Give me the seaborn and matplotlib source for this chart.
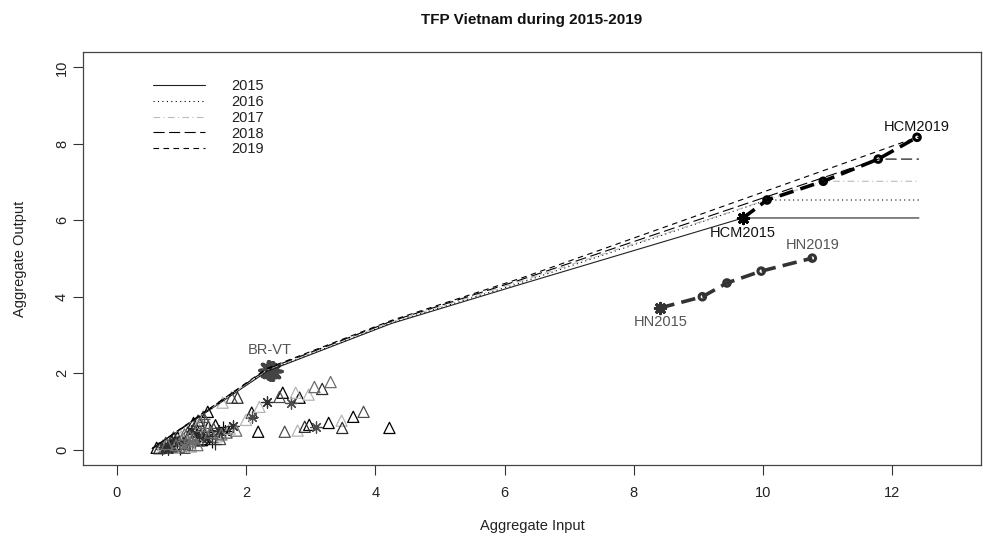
import numpy as np
import pandas as pd
import seaborn as sns
import matplotlib.pyplot as plt
from matplotlib.markers import MarkerStyle

years = [2015, 2016, 2017, 2018, 2019]

# frontier vertices per year (last point = horizontal extension)
frontier_x = {
    2015: [0.55, 2.33, 4.25, 6.20, 9.69, 12.41],
    2016: [0.55, 2.33, 4.25, 6.22, 10.06, 12.41],
    2017: [0.55, 2.33, 4.25, 6.24, 10.93, 12.41],
    2018: [0.55, 2.33, 4.25, 6.26, 11.78, 12.41],
    2019: [0.55, 2.33, 4.25, 6.28, 12.38, 12.41],
}
frontier_y = {
    2015: [0.03, 2.05, 3.30, 4.30, 6.06, 6.06],
    2016: [0.03, 2.07, 3.32, 4.35, 6.53, 6.53],
    2017: [0.03, 2.09, 3.34, 4.40, 7.02, 7.02],
    2018: [0.03, 2.11, 3.36, 4.45, 7.60, 7.60],
    2019: [0.03, 2.13, 3.38, 4.50, 8.17, 8.17],
}

hcm_x = [9.69, 10.06, 10.93, 11.78, 12.38]
hcm_y = [6.06, 6.53, 7.02, 7.60, 8.17]
hn_x = [8.41, 9.06, 9.44, 9.97, 10.76]
hn_y = [3.71, 4.00, 4.36, 4.67, 5.01]
brvt_x, brvt_y = 2.34, 2.09

# other provinces (input, output, year, symbol)
prov_x = [3.06, 3.18, 3.31, 2.57, 2.77, 2.52, 2.83, 2.97, 2.33, 2.69, 2.21, 2.09, 2.09, 2.00,
          1.87, 1.78, 1.64, 1.41, 2.19, 2.60, 2.80, 2.91, 2.98, 3.09, 3.28, 3.48, 3.49, 3.66,
          3.82, 4.22,
          0.62, 0.68, 0.72, 0.75, 0.78, 0.82, 0.85, 0.88, 0.90, 0.92, 0.95, 0.97, 1.00, 1.02,
          1.05, 1.08, 1.10, 1.12, 1.15, 1.18, 1.20, 1.22, 1.25, 1.28, 1.30, 1.32, 1.35, 1.38,
          1.40, 1.45, 1.48, 1.50, 1.55, 1.58, 1.62, 1.65, 1.70, 1.75, 1.80, 1.85, 0.98, 1.05,
          1.15, 0.80, 1.25, 0.70, 0.88, 1.00, 1.12, 1.30, 1.42, 1.60,
          0.66, 0.74, 0.83, 0.93, 1.03, 1.13, 1.23, 1.33, 1.43, 1.53, 0.70, 0.79, 0.87, 0.96,
          1.06, 1.17, 1.27, 1.36, 1.47, 1.57, 1.68, 0.76, 0.86, 0.94, 1.04, 1.14, 1.19, 1.26,
          1.34, 1.52]
prov_y = [1.64, 1.59, 1.77, 1.49, 1.49, 1.38, 1.36, 1.44, 1.25, 1.23, 1.12, 0.97, 0.86, 0.78,
          1.36, 1.36, 1.23, 0.99, 0.47, 0.47, 0.50, 0.60, 0.65, 0.60, 0.70, 0.76, 0.57, 0.86,
          0.99, 0.57,
          0.05, 0.08, 0.12, 0.06, 0.15, 0.10, 0.20, 0.05, 0.25, 0.12, 0.30, 0.08, 0.35, 0.18,
          0.40, 0.10, 0.45, 0.22, 0.50, 0.30, 0.55, 0.15, 0.62, 0.35, 0.70, 0.25, 0.80, 0.40,
          0.30, 0.45, 0.20, 0.55, 0.35, 0.50, 0.40, 0.60, 0.45, 0.55, 0.62, 0.50, 0.02, 0.05,
          0.08, 0.02, 0.12, 0.10, 0.32, 0.22, 0.38, 0.48, 0.60, 0.28,
          0.04, 0.10, 0.16, 0.20, 0.28, 0.34, 0.42, 0.50, 0.58, 0.64, 0.02, 0.06, 0.09, 0.14,
          0.16, 0.20, 0.24, 0.28, 0.36, 0.42, 0.50, 0.18, 0.26, 0.32, 0.10, 0.12, 0.70, 0.76,
          0.86, 0.14]
prov_year = [2019, 2018, 2019, 2015, 2017, 2016, 2015, 2017, 2018, 2016, 2017, 2015, 2016, 2017,
             2018, 2016, 2017, 2015, 2015, 2016, 2017, 2018, 2015, 2016, 2015, 2017, 2018, 2015,
             2016, 2015,
             2015, 2016, 2017, 2018, 2019, 2015, 2016, 2017, 2018, 2019, 2015, 2016, 2017, 2018,
             2019, 2015, 2016, 2017, 2018, 2019, 2015, 2016, 2017, 2018, 2019, 2015, 2016, 2017,
             2018, 2019, 2015, 2016, 2017, 2018, 2019, 2015, 2016, 2017, 2018, 2019, 2015, 2016,
             2017, 2018, 2019, 2015, 2016, 2017, 2018, 2019, 2015, 2016,
             2018, 2016, 2015, 2018, 2016, 2019, 2015, 2018, 2016, 2015, 2016, 2018, 2015, 2016,
             2018, 2019, 2016, 2015, 2018, 2016, 2015, 2016, 2018, 2015, 2019, 2016, 2015, 2018,
             2016, 2018]
prov_sym = (['tri'] * 8 + ['star', 'star'] + ['tri', 'tri', 'star'] + ['tri'] * 10 + ['star'] + ['tri'] * 6 +
            ['tri', 'plus', 'tri', 'star', 'tri', 'plus', 'tri', 'tri', 'star', 'tri', 'plus', 'tri', 'tri', 'star',
             'tri', 'plus', 'tri', 'tri', 'star', 'tri', 'tri', 'plus', 'tri', 'star', 'tri', 'tri', 'plus', 'tri',
             'star', 'tri', 'plus', 'tri', 'tri', 'star', 'tri', 'plus', 'tri', 'tri', 'star', 'tri', 'plus', 'tri',
             'tri', 'star', 'tri', 'plus', 'tri', 'star', 'tri', 'plus', 'tri', 'tri'] +
            ['tri', 'star', 'tri', 'plus', 'tri', 'tri', 'star', 'tri', 'plus', 'tri', 'star', 'tri', 'tri', 'plus',
             'tri', 'star', 'tri', 'tri', 'plus', 'tri', 'star', 'tri', 'plus', 'tri', 'star', 'tri', 'tri', 'tri',
             'tri', 'plus'])

year_color = {2015: '#000000', 2016: '#4d4d4d', 2017: '#b5b5b5', 2018: '#2e2e2e', 2019: '#6e6e6e'}
year_lines = {2015: dict(color='#222222', ls='-'),
              2016: dict(color='#000000', ls=(0, (1, 3))),
              2017: dict(color='#bbbbbb', ls=(0, (6, 3, 1, 3))),
              2018: dict(color='#000000', ls=(0, (10, 4))),
              2019: dict(color='#000000', ls=(0, (5, 4)))}

sns.set_theme(style='white')
plt.rcParams['font.family'] = ['Liberation Sans', 'DejaVu Sans']

fig = plt.figure(figsize=(9.83, 5.38), dpi=100)
ax = fig.add_axes([0.0844, 0.1357, 0.9136, 0.7676])

# frontiers
for yr in years:
    st = year_lines[yr]
    sns.lineplot(x=frontier_x[yr], y=frontier_y[yr], ax=ax, color=st['color'], linestyle=st['ls'],
                 linewidth=0.8, sort=False, estimator=None, label=str(yr))

# provinces
prov = pd.DataFrame({'x': prov_x, 'y': prov_y, 'year': prov_year, 'sym': prov_sym[:len(prov_x)]})
sym_marker = {'tri': MarkerStyle('^', fillstyle='none'), 'star': MarkerStyle((8, 2, 0)), 'plus': MarkerStyle('+')}
for (yr, sym), grp in prov.groupby(['year', 'sym']):
    sns.scatterplot(data=grp, x='x', y='y', ax=ax, marker=sym_marker[sym], color=year_color[yr],
                    s=65, linewidth=0.9, legend=False)

# BR-VT blob
for k in range(5):
    sns.scatterplot(x=[brvt_x + 0.02 * k], y=[brvt_y - 0.01 * k], ax=ax, marker=MarkerStyle((8, 2, 0)),
                    color='#444444', s=150, linewidth=2.5, legend=False)
sns.scatterplot(x=[brvt_x + 0.04], y=[brvt_y - 0.02], ax=ax, marker='o', color='#444444', s=90,
                linewidth=0, legend=False)

# HCM and HN paths
ax.plot(hcm_x, hcm_y, color='black', linewidth=2.6, linestyle=(0, (4, 2)), zorder=4)
ax.plot(hn_x, hn_y, color='#333333', linewidth=2.6, linestyle=(0, (4, 2)), zorder=4)
for px, py, c in [(hcm_x, hcm_y, 'black'), (hn_x, hn_y, '#333333')]:
    sns.scatterplot(x=px[:1], y=py[:1], ax=ax, marker=MarkerStyle((8, 2, 0)), color=c, s=55,
                    linewidth=2.2, legend=False, zorder=5)
    sns.scatterplot(x=px[1:], y=py[1:], ax=ax, marker=MarkerStyle('o', fillstyle='none'), color=c,
                    s=22, linewidth=2.2, legend=False, zorder=5)

ax.text(hcm_x[-1], hcm_y[-1] + 0.28, 'HCM2019', ha='center', va='center', fontsize=10.5, color='#111111')
ax.text(hcm_x[0], hcm_y[0] - 0.40, 'HCM2015', ha='center', va='center', fontsize=10.5, color='#111111')
ax.text(hn_x[-1], hn_y[-1] + 0.34, 'HN2019', ha='center', va='center', fontsize=10.5, color='#555555')
ax.text(hn_x[0], hn_y[0] - 0.38, 'HN2015', ha='center', va='center', fontsize=10.5, color='#555555')
ax.text(brvt_x + 0.03, brvt_y + 0.52, 'BR-VT', ha='center', va='center', fontsize=10.5, color='#555555')

ax.set_xlim(-0.52, 13.37)
ax.set_ylim(-0.4, 10.4)
ax.set_xticks([0, 2, 4, 6, 8, 10, 12])
ax.set_yticks([0, 2, 4, 6, 8, 10])
ax.tick_params(direction='out', length=7, width=0.8, colors='#333333', labelcolor='#222222',
               labelsize=10.5, bottom=True, left=True)
ax.tick_params(axis='x', pad=8)
ax.tick_params(axis='y', pad=3)
for lab in ax.get_yticklabels():
    lab.set_rotation(90)
    lab.set_va('center')
for sp in ax.spines.values():
    sp.set_color('#444444')
    sp.set_linewidth(0.9)

ax.set_xlabel('Aggregate Input', fontsize=10.5, labelpad=14, color='#222222')
ax.set_ylabel('Aggregate Output', fontsize=10.5, labelpad=20, color='#222222')
ax.set_title('TFP Vietnam during 2015-2019', fontsize=11, fontweight='bold', pad=20, color='#111111')

leg = ax.legend(loc='upper left', bbox_to_anchor=(0.071, 0.948), frameon=False, fontsize=10.5,
                handlelength=3.6, handletextpad=1.8, labelspacing=0.12, borderaxespad=0)
for t in leg.get_texts():
    t.set_color('#222222')

fig.savefig('out.png', dpi=100)
